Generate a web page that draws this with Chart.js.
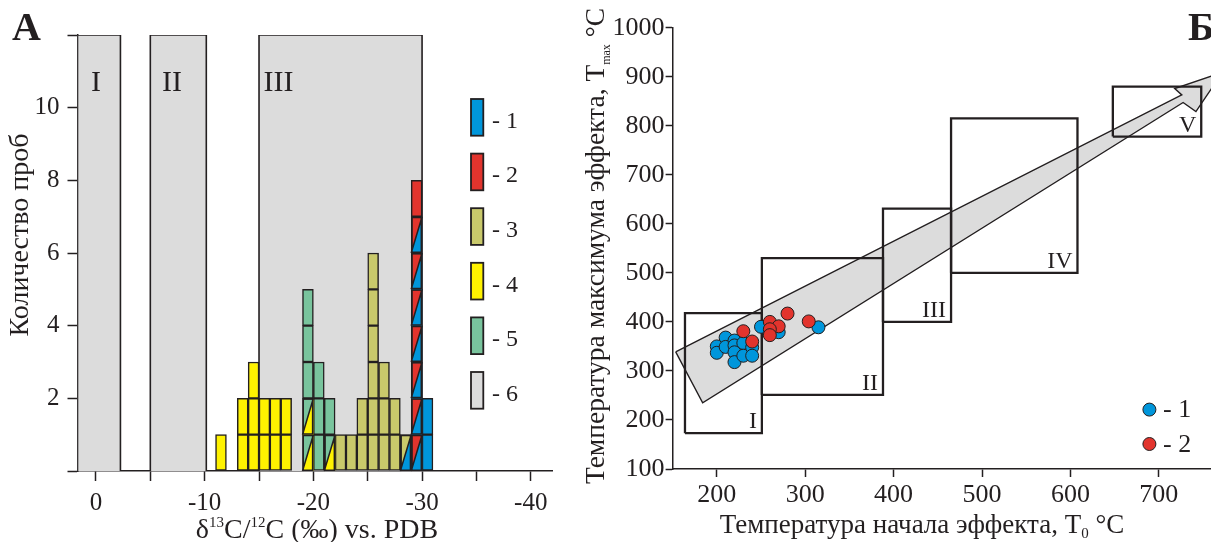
<!DOCTYPE html>
<html lang="ru">
<head>
    <meta charset="UTF-8">
    <title>δ13C и температуры эффектов</title>
    <style>
        html, body { margin: 0; padding: 0; background: #fff; overflow: hidden; }
        #page { position: relative; width: 1211px; height: 542px; overflow: hidden; }
        #chartA { position: absolute; left: 0; top: 0; }
        #chartB { position: absolute; left: 570px; top: 0; }
    </style>
    <script src="https://cdn.jsdelivr.net/npm/chart.js"></script>
</head>
<body>
<div id="page">
    <canvas id="chartA" width="570" height="552"></canvas>
    <canvas id="chartB" width="700" height="552"></canvas>
</div>
<script>
    // ---------- panel A: histogram of d13C ----------
    const zoneNamesA = ['I', 'II', 'III'];
    const zoneFromA = [1.7, -5, -15];
    const zoneToA = [-2.25, -10.15, -30];
    const zoneTopA = 12;
    const zoneNameXA = [0, -7, -16.8];
    const zoneNameYA = 10.45;

    // bin centres (permil) and cells from the bottom up; "a/b" = split cell, a upper-left, b lower-right
    const binCenters = [-11.5, -13.5, -14.5, -15.5, -16.5, -17.5, -19.5, -20.5, -21.5,
        -22.5, -23.5, -24.5, -25.5, -26.5, -27.5, -28.5, -29.5, -30.5];
    const binCells = [
        ['4'],
        ['4', '4'],
        ['4', '4', '4'],
        ['4', '4'],
        ['4', '4'],
        ['4', '4'],
        ['5/4', '5/4', '5', '5', '5'],
        ['5', '5', '5'],
        ['5/4', '5'],
        ['3'],
        ['3'],
        ['3', '3'],
        ['3', '3', '3', '3', '3', '3'],
        ['3', '3', '3'],
        ['3', '3'],
        ['3/1'],
        ['2/1', '2/1', '2/1', '2/1', '2/1', '2/1', '2/1', '2'],
        ['1', '1']
    ];
    const legendCodesA = ['1', '2', '3', '4', '5', '6'];

    // ---------- panel B: T0 vs Tmax ----------
    const zoneNamesB = ['I', 'II', 'III', 'IV', 'V'];
    const zoneT0Min = [164, 251, 388, 465, 648];
    const zoneT0Max = [251, 388, 465, 608, 748];
    const zoneTmaxMin = [173, 251, 400, 500, 778];
    const zoneTmaxMax = [418, 530, 631, 815, 880];

    const arrowT0 = [153.5, 726, 718, 772, 742, 727.5, 184, 153.5];
    const arrowTmax = [339, 863, 876, 909, 829, 847.5, 235, 339];

    const t0Blue = [200, 200, 210, 210, 220, 220, 220, 220, 230, 230, 240, 240, 250, 270, 315];
    const tmaxBlue = [350, 337, 368, 349, 362, 352, 338, 318, 357, 331, 348, 331, 390, 379, 389];
    const t0Red = [230, 240, 260, 270, 260, 260, 280, 304];
    const tmaxRed = [381, 360, 400, 391, 385, 373, 417, 401];
    const legendCodesB = ['1', '2'];

    const palette = { '1': '#0096DB', '2': '#E2342D', '3': '#C9C96B', '4': '#FFF200', '5': '#79C49D', '6': '#DCDCDC' };
    const ink = '#231F20';
    const serif = '"Liberation Serif", "Times New Roman", serif';

    // text with super/subscripts: parts = [[text, shift, scale]], shift 1 sup, -1 sub
    function drawRich(ctx, parts, x, y, size, align) {
        const fontOf = p => (p[1] ? Math.round(size * (p[2] || 0.55)) : size) + 'px ' + serif;
        let w = 0;
        parts.forEach(p => { ctx.font = fontOf(p); w += ctx.measureText(p[0]).width; });
        let cx = align === 'center' ? x - w / 2 : x;
        ctx.textAlign = 'left';
        ctx.textBaseline = 'alphabetic';
        parts.forEach(p => {
            ctx.font = fontOf(p);
            const dy = p[1] > 0 ? -size * 0.38 : (p[1] < 0 ? size * 0.2 : 0);
            ctx.fillText(p[0], cx, y + dy);
            cx += ctx.measureText(p[0]).width;
        });
    }

    function axisStyle(tickLength) {
        return {
            grid: { offset: false, drawOnChartArea: false, tickLength: tickLength, tickColor: ink, tickWidth: 1.5 },
            border: { color: ink, width: 1.5 }
        };
    }

    // bars: one dataset per colour of the (upper-left part of the) cell
    const barSets = ['1', '2', '3', '4', '5'].map(code => {
        const pts = [];
        binCenters.forEach((c, i) => {
            binCells[i].forEach((cell, lvl) => {
                if (cell.split('/')[0] === code) pts.push({ x: c, y: [lvl, lvl + 1] });
            });
        });
        return {
            type: 'bar', label: '- ' + code, data: pts,
            backgroundColor: palette[code], borderColor: ink, borderWidth: 1.5, borderSkipped: false,
            grouped: false, barPercentage: 1, categoryPercentage: 1, order: 1
        };
    });

    const zoneSetsA = zoneFromA.map((x0, i) => ({
        type: 'line', label: zoneNamesA[i],
        data: [{ x: x0, y: 0 }, { x: x0, y: zoneTopA }, { x: zoneToA[i], y: zoneTopA }, { x: zoneToA[i], y: 0 }],
        borderColor: ink, borderWidth: 1.6, backgroundColor: palette['6'],
        fill: 'shape', pointRadius: 0, order: 5
    }));

    const panelA = {
        id: 'panelA',
        afterDatasetsDraw(chart) {
            const { ctx, scales: { x, y } } = chart;
            ctx.save();
            // split cells
            binCenters.forEach((c, i) => {
                binCells[i].forEach((cell, lvl) => {
                    const codes = cell.split('/');
                    if (codes.length < 2) return;
                    const xl = x.getPixelForValue(c + 0.5), xr = x.getPixelForValue(c - 0.5);
                    const yb = y.getPixelForValue(lvl), yt = y.getPixelForValue(lvl + 1);
                    ctx.beginPath();
                    ctx.moveTo(xl, yb); ctx.lineTo(xr, yb); ctx.lineTo(xr, yt); ctx.closePath();
                    ctx.fillStyle = palette[codes[1]];
                    ctx.fill();
                    ctx.strokeStyle = ink; ctx.lineWidth = 1.5;
                    ctx.beginPath();
                    ctx.rect(xl + 0.75, yt + 0.75, xr - xl - 1.5, yb - yt - 1.5);
                    ctx.moveTo(xl, yb); ctx.lineTo(xr, yt);
                    ctx.stroke();
                });
            });
            // zone names
            ctx.fillStyle = ink;
            ctx.font = '30px ' + serif;
            ctx.textAlign = 'center';
            ctx.textBaseline = 'alphabetic';
            zoneNamesA.forEach((n, i) => ctx.fillText(n, x.getPixelForValue(zoneNameXA[i]), y.getPixelForValue(zoneNameYA)));
            // legend
            legendCodesA.forEach((code, i) => {
                const top = 99 + i * 54.6;
                ctx.fillStyle = palette[code];
                ctx.fillRect(471, top, 12.3, 36.7);
                ctx.strokeStyle = ink; ctx.lineWidth = 1.8;
                ctx.strokeRect(471, top, 12.3, 36.7);
                ctx.fillStyle = ink;
                ctx.font = '24px ' + serif;
                ctx.textAlign = 'left';
                ctx.textBaseline = 'middle';
                ctx.fillText('- ' + code, 492, top + 22.5);
            });
            // titles and panel letter
            ctx.fillStyle = ink;
            drawRich(ctx, [['δ', 0], ['13', 1], ['C/', 0], ['12', 1], ['C (‰) vs. PDB', 0]], 317, 538, 28, 'center');
            ctx.save();
            ctx.translate(28, 235);
            ctx.rotate(-Math.PI / 2);
            drawRich(ctx, [['Количество проб', 0]], 0, 0, 28, 'center');
            ctx.restore();
            ctx.font = 'bold 40px ' + serif;
            ctx.textAlign = 'left';
            ctx.textBaseline = 'alphabetic';
            ctx.fillText('А', 12, 40);
            ctx.restore();
        }
    };

    new Chart(document.getElementById('chartA'), {
        type: 'bar',
        data: { datasets: [...barSets, ...zoneSetsA] },
        options: {
            responsive: false,
            animation: false,
            layout: { autoPadding: false, padding: { top: 35, right: 17.5, left: 0, bottom: 0 } },
            plugins: { legend: { display: false }, tooltip: { enabled: false } },
            scales: {
                x: {
                    type: 'linear', reverse: true, min: -42, max: 1.7, offset: false,
                    ...axisStyle(10),
                    ticks: {
                        stepSize: 5, includeBounds: false, autoSkip: false, maxRotation: 0, padding: 7,
                        color: ink, font: { family: serif, size: 25 },
                        callback: v => (v % 10 === 0 ? String(v) : '')
                    },
                    afterFit: s => { s.height = 81; }
                },
                y: {
                    type: 'linear', min: 0, max: 12,
                    ...axisStyle(10),
                    ticks: {
                        stepSize: 2, includeBounds: false, autoSkip: false, padding: 8,
                        color: ink, font: { family: serif, size: 25 },
                        callback: v => (v > 0 && v < 12 ? String(v) : '')
                    },
                    afterFit: s => { s.width = 77.5; }
                }
            }
        },
        plugins: [panelA]
    });

    // ---------- panel B chart ----------
    function pairs(xs, ys) { return xs.map((v, i) => ({ x: v, y: ys[i] })); }

    const zoneSetsB = zoneNamesB.map((n, i) => ({
        type: 'line', label: n,
        data: pairs(
            [zoneT0Min[i], zoneT0Max[i], zoneT0Max[i], zoneT0Min[i], zoneT0Min[i]],
            [zoneTmaxMin[i], zoneTmaxMin[i], zoneTmaxMax[i], zoneTmaxMax[i], zoneTmaxMin[i]]),
        borderColor: ink, borderWidth: 2.3, fill: false, pointRadius: 0, order: 2
    }));

    const panelB = {
        id: 'panelB',
        afterDatasetsDraw(chart) {
            const { ctx, scales: { x, y } } = chart;
            ctx.save();
            ctx.fillStyle = ink;
            ctx.font = '24px ' + serif;
            ctx.textAlign = 'right';
            ctx.textBaseline = 'alphabetic';
            zoneNamesB.forEach((n, i) => {
                ctx.fillText(n, x.getPixelForValue(zoneT0Max[i]) - 5, y.getPixelForValue(zoneTmaxMin[i]) - 5);
            });
            // legend
            legendCodesB.forEach((code, i) => {
                const cy = 409.6 + i * 34.4;
                ctx.beginPath();
                ctx.arc(579.4, cy, 6.5, 0, Math.PI * 2);
                ctx.fillStyle = palette[code];
                ctx.fill();
                ctx.strokeStyle = ink; ctx.lineWidth = 1;
                ctx.stroke();
                ctx.fillStyle = ink;
                ctx.font = '26px ' + serif;
                ctx.textAlign = 'left';
                ctx.textBaseline = 'middle';
                ctx.fillText('- ' + code, 593, cy + 1);
            });
            // titles and panel letter
            drawRich(ctx, [['Температура начала эффекта, T', 0], ['0', -1, 0.55], [' °C', 0]], 352, 533, 27, 'center');
            ctx.save();
            ctx.translate(34, 246);
            ctx.rotate(-Math.PI / 2);
            drawRich(ctx, [['Температура максимума эффекта, T', 0], ['max', -1, 0.45], [' °C', 0]], 0, 0, 27.5, 'center');
            ctx.restore();
            ctx.font = 'bold 40px ' + serif;
            ctx.textAlign = 'left';
            ctx.textBaseline = 'alphabetic';
            ctx.fillText('Б', 618, 40);
            ctx.restore();
        }
    };

    new Chart(document.getElementById('chartB'), {
        type: 'scatter',
        data: {
            datasets: [
                { label: '- 2', data: pairs(t0Red, tmaxRed), backgroundColor: palette['2'], borderColor: ink,
                  borderWidth: 1, pointRadius: 6.5, order: 0 },
                { label: '- 1', data: pairs(t0Blue, tmaxBlue), backgroundColor: palette['1'], borderColor: ink,
                  borderWidth: 1, pointRadius: 6.5, order: 1 },
                ...zoneSetsB,
                { type: 'line', label: 'arrow', data: pairs(arrowT0, arrowTmax), borderColor: ink, borderWidth: 1.4,
                  backgroundColor: palette['6'], fill: 'shape', pointRadius: 0, order: 3 }
            ]
        },
        options: {
            responsive: false,
            animation: false,
            layout: { autoPadding: false, padding: { top: 27.7, right: 22.8, left: 0, bottom: 0 } },
            plugins: { legend: { display: false }, tooltip: { enabled: false } },
            scales: {
                x: {
                    type: 'linear', min: 150, max: 800,
                    ...axisStyle(8),
                    ticks: {
                        stepSize: 100, includeBounds: false, autoSkip: false, maxRotation: 0, padding: 3,
                        color: ink, font: { family: serif, size: 26 },
                        callback: v => String(v)
                    },
                    afterFit: s => { s.height = 83; }
                },
                y: {
                    type: 'linear', min: 100, max: 1000,
                    ...axisStyle(7),
                    ticks: {
                        stepSize: 100, includeBounds: false, autoSkip: false, padding: 1,
                        color: ink, font: { family: serif, size: 26 },
                        callback: v => String(v)
                    },
                    afterFit: s => { s.width = 102.6; }
                }
            }
        },
        plugins: [panelB]
    });
</script>
</body>
</html>
